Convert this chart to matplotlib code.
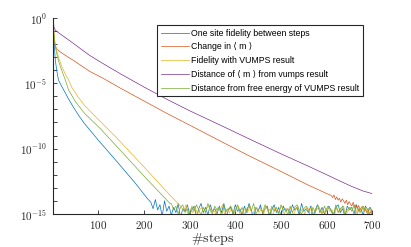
import numpy as np
import matplotlib
matplotlib.use("Agg")
import matplotlib.pyplot as plt
from matplotlib.ticker import FixedLocator, FuncFormatter

plt.rcParams['mathtext.fontset'] = 'cm'

labels = ["One site fidelity between steps",
          "Change in ⟨ m ⟩",
          "Fidelity with VUMPS result",
          "Distance of ⟨ m ⟩ from vumps result",
          "Distance from free energy of VUMPS result"]
colors = ['#0072BD', '#D95319', '#EDB120', '#7E2F8E', '#77AC30']

# --- Blue: one site fidelity (log10 values) ---
blue_x = [1, 2, 3, 4, 6, 9, 13, 18, 25, 35, 46, 57, 68, 100, 141, 180, 207, 212]
blue_L = [0, -0.9, -1.6, -2.2, -3.2, -4.0, -4.75, -5.1, -5.55, -6.2, -6.85, -7.45,
          -8.0, -9.35, -11.0, -12.6, -13.8, -14.0]
blue_noise_x = np.arange(215, 701, 5)
blue_noise_L = [-14.1, -14.6, -13.9, -14.7, -14.3, -15.2, -14.0, -14.8, -14.4, -15.1,
                -14.5, -14.9, -14.2, -15.3, -14.6, -14.8, -14.3, -15.0, -14.7, -14.4,
                -15.2, -14.6, -14.2, -14.9, -14.5, -15.1, -14.3, -14.8, -14.6, -15.0,
                -14.4, -14.9, -14.2, -15.2, -14.7, -14.5, -15.0, -14.3, -14.8, -14.6,
                -15.1, -14.4, -14.9, -14.2, -14.7, -15.3, -14.5, -14.8, -14.3, -15.0,
                -14.6, -14.4, -15.1, -14.7, -14.3, -14.9, -14.5, -15.2, -14.4, -14.8,
                -14.6, -15.0, -14.3, -14.7, -14.5, -15.1, -14.2, -14.8, -14.6, -14.9,
                -14.4, -15.2, -14.7, -14.3, -14.9, -14.5, -15.0, -14.6, -14.4, -14.8,
                -15.1, -14.5, -14.3, -14.9, -14.6, -15.2, -14.4, -14.7, -14.5, -15.0,
                -14.3, -14.8, -14.6, -15.1, -14.4, -14.7, -14.5, -14.9]

# --- Orange: change in <m> ---
orange_x = [1, 2, 3, 4, 6, 10, 17, 30, 46, 65, 82, 110, 150, 200, 250, 300, 367,
            430, 500, 560, 607]
orange_L = [-0.1, -0.9, -1.5, -1.85, -2.15, -2.4, -2.6, -2.9, -3.25, -3.7, -4.1,
            -4.6, -5.4, -6.35, -7.3, -8.2, -9.42, -10.55, -11.75, -12.8, -13.55]
orange_noise_x = np.arange(610, 701, 3)
orange_noise_L = [-13.6, -13.75, -13.55, -13.9, -13.7, -13.95, -13.8, -14.1, -13.85, -14.0,
                  -14.2, -13.95, -14.3, -14.05, -14.25, -14.4, -14.1, -14.5, -14.3, -14.6,
                  -14.35, -14.7, -14.5, -14.45, -14.8, -14.6, -14.9, -14.7, -15.0, -14.8, -15.1]

# --- Yellow: fidelity with VUMPS ---
yellow_x = [1, 2, 3, 4, 6, 9, 14, 20, 28, 35, 42, 55, 70, 104, 141, 200, 250, 280]
yellow_L = [0, -0.5, -1.0, -1.5, -2.0, -2.5, -3.1, -3.7, -4.3, -4.75, -5.3, -6.0,
            -6.7, -7.9, -9.2, -11.4, -13.3, -14.4]
yellow_noise_x = np.arange(282, 700, 5)
yellow_noise_L = [-14.5, -14.8, -14.3, -15.1, -14.6, -14.9, -14.4, -15.0, -14.7, -14.5,
                  -15.2, -14.6, -14.4, -14.9, -14.7, -15.0, -14.5, -14.8, -14.3, -15.1,
                  -14.6, -14.9, -14.5, -15.0, -14.7, -14.4, -15.2, -14.8, -14.6, -14.9,
                  -14.4, -15.1, -14.7, -14.5, -14.9, -14.6, -15.0, -14.4, -14.8, -14.6,
                  -15.2, -14.5, -14.9, -14.7, -14.4, -15.0, -14.6, -14.8, -14.5, -15.1,
                  -14.7, -14.4, -14.9, -14.6, -15.0, -14.5, -14.8, -14.4, -15.2, -14.7,
                  -14.5, -14.9, -14.6, -15.0, -14.4, -14.8, -14.7, -15.1, -14.5, -14.9,
                  -14.6, -14.4, -15.0, -14.8, -14.5, -14.7, -15.2, -14.6, -14.9, -14.4,
                  -14.8, -14.5, -15.0, -14.7]

# --- Purple: distance of <m> from vumps ---
purple_x = [1, 2, 3, 4, 6, 10, 20, 30, 46, 65, 82, 110, 150, 200, 250, 300, 367,
            430, 500, 560, 600, 630, 655, 680, 700]
purple_L = [-0.05, -0.35, -0.65, -0.8, -0.92, -1.05, -1.3, -1.55, -1.95, -2.45,
            -2.88, -3.48, -4.3, -5.28, -6.22, -7.1, -8.2, -9.25, -10.4, -11.35,
            -12.0, -12.5, -12.9, -13.25, -13.45]

# --- Green: distance from free energy ---
green_x = [1, 2, 3, 4, 6, 9, 14, 20, 28, 35, 50, 70, 104, 141, 200, 257]
green_L = [0, -0.6, -1.1, -1.6, -2.2, -2.7, -3.4, -4.0, -4.75, -5.5, -6.4, -7.3,
           -8.45, -9.85, -12.1, -14.2]
green_noise_x = np.arange(260, 701, 5)
green_noise_L = [-14.2, -14.7, -14.4, -15.0, -14.5, -14.3, -14.9, -14.6, -15.2, -14.4,
                 -14.8, -14.3, -14.7, -15.1, -14.5, -14.9, -14.2, -14.6, -15.0, -14.4,
                 -14.7, -14.5, -15.2, -14.3, -14.8, -14.6, -14.4, -15.0, -14.7, -14.3,
                 -14.9, -14.5, -15.1, -14.6, -14.4, -14.8, -14.2, -15.0, -14.7, -14.5,
                 -14.9, -14.3, -14.6, -15.2, -14.4, -14.8, -14.5, -15.0, -14.3, -14.7,
                 -14.6, -15.1, -14.4, -14.9, -14.5, -14.3, -14.8, -15.0, -14.6, -14.4,
                 -14.7, -15.2, -14.5, -14.9, -14.3, -14.6, -15.0, -14.4, -14.8, -14.5,
                 -14.7, -15.1, -14.3, -14.9, -14.6, -14.4, -15.0, -14.7, -14.5, -14.8,
                 -14.3, -15.2, -14.6, -14.9, -14.4, -14.7, -15.0, -14.5, -14.8]

xticks = [100, 200, 300, 400, 500, 600, 700]
ydecades = list(range(-15, 1))

series = [
    (list(blue_x) + list(blue_noise_x), blue_L + blue_noise_L),
    (list(orange_x) + list(orange_noise_x), orange_L + orange_noise_L),
    (list(yellow_x) + list(yellow_noise_x), yellow_L + yellow_noise_L),
    (purple_x, purple_L),
    (list(green_x) + list(green_noise_x), green_L + green_noise_L),
]

fig = plt.figure(figsize=(4.11, 2.47), dpi=100)
ax = fig.add_axes([0.129, 0.134, 0.777, 0.793])

for (xs, Ls), c, lab in zip(series, colors, labels):
    ax.plot(xs, 10.0 ** np.array(Ls), color=c, lw=0.5, label=lab)

ax.set_yscale('log')
ax.set_xlim(1, 700)
ax.set_ylim(1e-15, 1e0)

ax.yaxis.set_major_locator(FixedLocator([10.0 ** k for k in ydecades]))
ax.yaxis.set_minor_locator(FixedLocator([]))
ax.yaxis.set_major_formatter(FuncFormatter(
    lambda v, p: r'$10^{%d}$' % round(np.log10(v)) if round(np.log10(v)) % 5 == 0 else ''))
ax.set_xticks(xticks)
ax.xaxis.set_major_formatter(FuncFormatter(lambda v, p: r'$%d$' % v))

for s in ['top', 'right']:
    ax.spines[s].set_visible(False)
for s in ['left', 'bottom']:
    ax.spines[s].set_color('#262626')
    ax.spines[s].set_linewidth(0.8)
ax.tick_params(direction='in', length=3, width=0.6, color='#262626',
               labelsize=8, labelcolor='#262626', pad=4)

ax.set_xlabel(r'$\#\mathrm{steps}$', fontsize=10, color='#262626', labelpad=0)

leg = ax.legend(loc='upper right', bbox_to_anchor=(0.970, 0.964), borderaxespad=0,
                fancybox=False, framealpha=1, edgecolor='#262626',
                prop={'family': ['Liberation Sans', 'DejaVu Sans'], 'size': 6.3},
                handlelength=3.3, handletextpad=0.2, labelspacing=0.55,
                borderpad=0.4)
leg.get_frame().set_linewidth(0.8)

fig.savefig('out.png', dpi=100)
